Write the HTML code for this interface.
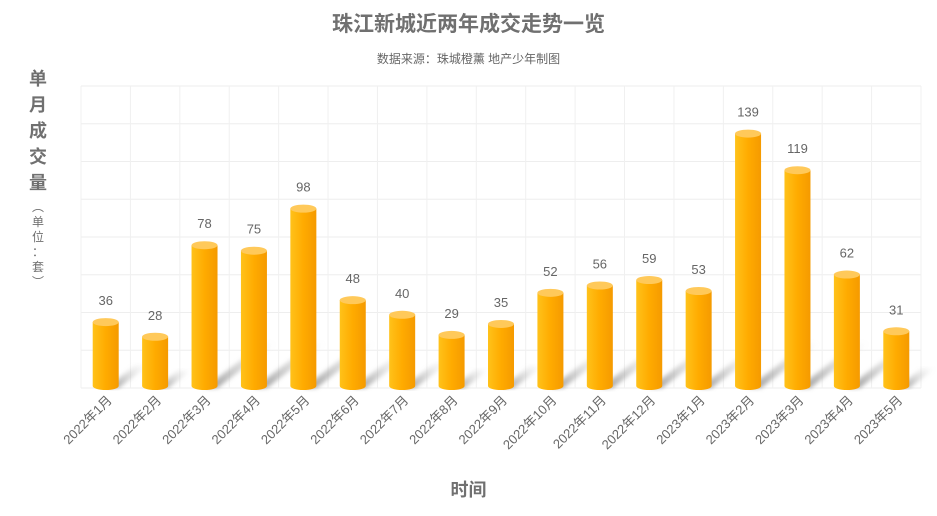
<!DOCTYPE html>
<html><head><meta charset="utf-8"><style>
body{margin:0;background:#fff;font-family:"Liberation Sans","Noto Sans CJK SC",sans-serif;}
#wrap{position:relative;width:937px;height:516px;overflow:hidden}
.t{position:absolute;left:0;width:937px;text-align:center}
</style></head><body>
<div id="wrap">
<div class="t" style="top:8px;font-size:21px;font-weight:bold;color:#707070">珠江新城近两年成交走势一览</div>
<div class="t" style="top:50px;font-size:12px;color:#666">数据来源：珠城橙薰 地产少年制图</div>
<div style="position:absolute;left:26px;top:66px;width:24px;text-align:center;color:#707070;font-weight:bold;font-size:18px;line-height:26px">单<br>月<br>成<br>交<br>量<div style="font-size:12px;font-weight:normal;line-height:15px;margin-top:4px">︵<br>单<br>位<br>：<br>套<br>︶</div></div>
<div class="t" style="top:476px;font-size:18px;font-weight:bold;color:#707070">时间</div>
<svg id="svg" width="937" height="516" style="position:absolute;left:0;top:0">
<defs>
<linearGradient id="body" x1="0" x2="1" y1="0" y2="0"><stop offset="0" stop-color="#ffc21a"/><stop offset="0.5" stop-color="#ffab00"/><stop offset="1" stop-color="#f59a00"/></linearGradient>
<linearGradient id="sh" x1="0" x2="1" y1="1" y2="0"><stop offset="0" stop-color="#777" stop-opacity="0.75"/><stop offset="1" stop-color="#bbb" stop-opacity="0"/></linearGradient>
<filter id="bl"><feGaussianBlur stdDeviation="2"/></filter>
</defs>
</svg>
</div>
<script>
const categories=["2022年1月","2022年2月","2022年3月","2022年4月","2022年5月","2022年6月","2022年7月","2022年8月","2022年9月","2022年10月","2022年11月","2022年12月","2023年1月","2023年2月","2023年3月","2023年4月","2023年5月"];
const values=[36,28,78,75,98,48,40,29,35,52,56,59,53,139,119,62,31];
const yMax=165;
const svg=document.getElementById('svg');const NS='http://www.w3.org/2000/svg';
const L=81,R=921,T=86,B=388;
const colW=(R-L)/categories.length;
function x(i){return L+colW*(i+0.5);}
function y(v){return B-(B-T)*v/yMax;}
function mk(tag,a,name){const e=document.createElementNS(NS,tag);for(const k in a)e.setAttribute(k,a[k]);


svg.appendChild(e);return e;}
for(let k=0;k<=8;k++){const gy=T+(B-T)*k/8;mk('line',{x1:L,x2:R,y1:gy,y2:gy,stroke:'#eee','stroke-width':1},'grid-line-h');}
for(let i=0;i<=categories.length;i++){const gx=L+colW*i;mk('line',{x1:gx,x2:gx,y1:T,y2:B,stroke:'#f0f0f0','stroke-width':1},'grid-line-v');}
const bw=26,eh=4;
values.forEach((v,i)=>{
 const cx=x(i),top=y(v),h=B-top;const sl=Math.min(h*0.35,45);
 mk('polygon',{points:`${cx},${B} ${cx+bw/2},${B} ${cx+bw/2+sl*1.3},${B-sl} ${cx+sl*1.3},${B-sl}`,fill:'url(#sh)',filter:'url(#bl)'},'bar-shadow');
 mk('path',{d:`M${cx-bw/2},${top} L${cx-bw/2},${B-eh/2} A${bw/2},${eh} 0 0 0 ${cx+bw/2},${B-eh/2} L${cx+bw/2},${top} Z`,fill:'url(#body)'},'bar-'+categories[i]);
 mk('ellipse',{cx:cx,cy:top,rx:bw/2,ry:eh,fill:'#ffc95a'},'bar-top');
 const t=mk('text',{x:cx,y:top-17,'text-anchor':'middle','font-size':13,fill:'#666'},'value-label');t.textContent=v;
 const lb=mk('text',{x:cx+7,y:B+13,'text-anchor':'end','font-size':13,fill:'#666',transform:`rotate(-45 ${cx+7} ${B+13})`},'x-tick-label');lb.textContent=categories[i];
});
</script>
</body></html>
